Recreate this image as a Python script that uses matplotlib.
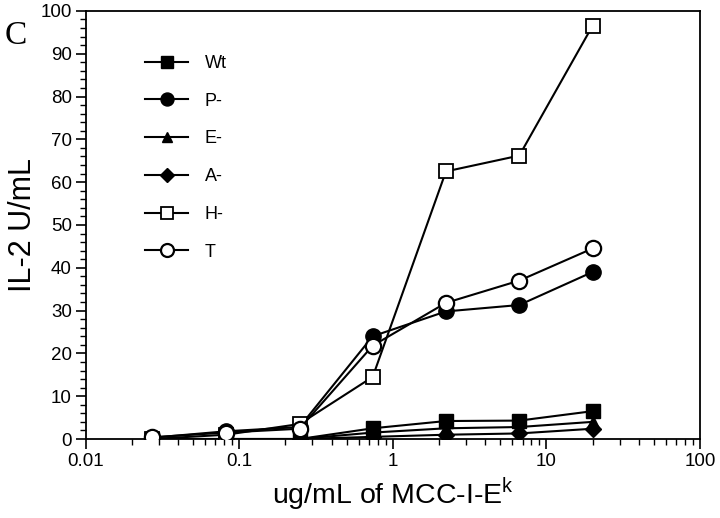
import matplotlib
matplotlib.use('Agg')
import matplotlib.pyplot as plt
from matplotlib.ticker import MultipleLocator, FixedLocator, NullFormatter, LogLocator

plt.rcParams['font.family'] = ['Liberation Sans', 'DejaVu Sans']

# dose (ug/mL of MCC-I-Ek), 3-fold dilutions
dose = [0.027, 0.082, 0.247, 0.74, 2.22, 6.67, 20.0]

wt = [0.0, 0.0, 0.0, 2.5, 4.2, 4.3, 6.5]
p_minus = [0.3, 1.8, 2.8, 24.0, 29.8, 31.3, 39.0]
e_minus = [0.0, 0.0, 0.0, 1.5, 2.5, 2.8, 4.0]
a_minus = [0.0, 0.0, 0.0, 0.5, 1.0, 1.3, 2.4]
h_minus = [0.0, 1.0, 3.5, 14.5, 62.5, 66.2, 96.5]
t_cells = [0.4, 1.5, 2.4, 21.8, 31.8, 37.0, 44.5]

fig = plt.figure(figsize=(7.2, 5.18), dpi=100)
ax = fig.add_axes([0.119, 0.1525, 0.853, 0.8265])

lw = 1.5
ms = 10.5
ax.plot(dose, a_minus, '-', color='black', lw=lw, marker='D', ms=8, mfc='black', mec='black', label='A-', zorder=3)
ax.plot(dose, e_minus, '-', color='black', lw=lw, marker='^', ms=9, mfc='black', mec='black', label='E-', zorder=3)
ax.plot(dose, wt, '-', color='black', lw=lw, marker='s', ms=ms, mfc='black', mec='black', label='Wt', zorder=3)
ax.plot(dose, p_minus, '-', color='black', lw=lw, marker='o', ms=ms + 0.5, mfc='black', mec='black', label='P-', zorder=3)
ax.plot(dose, h_minus, '-', color='black', lw=lw, marker='s', ms=ms, mfc='white', mec='black', mew=1.3, label='H-', zorder=4)
ax.plot(dose, t_cells, '-', color='black', lw=lw, marker='o', ms=ms + 0.5, mfc='white', mec='black', mew=1.6, label='T', zorder=5)

ax.set_xscale('log')
ax.set_xlim(0.01, 100)
ax.set_ylim(0, 100)
ax.xaxis.set_major_locator(FixedLocator([0.01, 0.1, 1, 10, 100]))
ax.xaxis.set_minor_locator(LogLocator(base=10, subs=range(2, 10), numticks=20))
ax.xaxis.set_minor_formatter(NullFormatter())
ax.set_xticklabels(['0.01', '0.1', '1', '10', '100'])
ax.yaxis.set_major_locator(MultipleLocator(10))
ax.yaxis.set_minor_locator(MultipleLocator(2))

ax.tick_params(axis='both', which='major', direction='out', length=7, width=1.2, labelsize=13.5, pad=3)
ax.tick_params(axis='both', which='minor', direction='out', length=4, width=1.0)
for s in ax.spines.values():
    s.set_linewidth(1.3)

ax.set_xlabel('ug/mL of MCC-I-E$^\\mathregular{k}$', fontsize=20.5, labelpad=4)
ax.set_ylabel('IL-2 U/mL', fontsize=22, labelpad=2)

handles, labels = ax.get_legend_handles_labels()
order = ['Wt', 'P-', 'E-', 'A-', 'H-', 'T']
hmap = dict(zip(labels, handles))
leg = ax.legend([hmap[k] for k in order], order, loc='upper left', bbox_to_anchor=(0.07, 0.935),
                frameon=False, fontsize=13, labelspacing=1.15, handlelength=2.4, handletextpad=0.9,
                markerscale=0.85)

fig.text(0.006, 0.915, 'C', fontsize=24, family='Liberation Serif')

fig.savefig('out.png', dpi=100)
